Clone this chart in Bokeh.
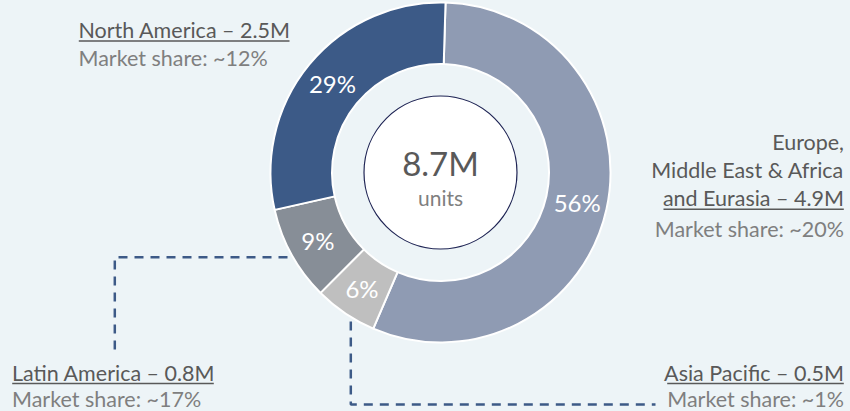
import math
from bokeh.plotting import figure
from bokeh.models import Range1d, ColumnDataSource
from bokeh.core.properties import value
from bokeh.embed import file_html
from bokeh.resources import INLINE

# ---------------- data ----------------
regions = ["Europe, Middle East & Africa and Eurasia", "Asia Pacific", "Latin America", "North America"]
units_m = [4.9, 0.5, 0.8, 2.5]            # million units
share_of_total = [56, 6, 9, 29]           # % of total units (donut slices)
market_share = [20, 1, 17, 12]            # approx market share %
total_units = "8.7M"
total_caption = "units"
colors = ["#8F9BB3", "#BFBFBF", "#878E97", "#3C5A87"]

# ---------------- styling / layout ----------------
BG = "#EDF4F7"
W, H = 850, 411
FONT = value("Lato")
TITLE_C = "#595959"
SUB_C = "#7F7F7F"
LINE_C = "#3D5A87"

def Y(ys):
    return H - ys

def TY(ys, size):
    # baseline position (screen px) -> data y, compensating renderer baseline offset
    return H - (ys - 0.37 * size)

p = figure(width=W, height=H, x_range=Range1d(0, W), y_range=Range1d(0, H),
           output_backend="svg", toolbar_location=None,
           x_axis_type=None, y_axis_type=None, min_border=0,
           background_fill_color=BG, border_fill_color=BG, outline_line_color=None)
p.grid.grid_line_color = None

cx, cy = 440, Y(172)
r_out, r_in = 170, 108.5
offset = 1.7  # degrees clockwise from 12 o'clock

# slices
starts, ends, lx, ly, labels = [], [], [], [], []
cum = 0
for v in share_of_total:
    th1 = offset + cum / 100 * 360
    th2 = th1 + v / 100 * 360
    cum += v
    starts.append(math.radians(90 - th2))
    ends.append(math.radians(90 - th1))
    mid = math.radians(90 - (th1 + th2) / 2)
    rm = 140
    lx.append(cx + rm * math.cos(mid))
    ly.append(cy + rm * math.sin(mid))
    labels.append(f"{v}%")

src = ColumnDataSource(dict(start=starts, end=ends, color=colors, lx=lx, ly=ly, label=labels))
p.annular_wedge(x=cx, y=cy, inner_radius=r_in, outer_radius=r_out,
                start_angle="start", end_angle="end", direction="anticlock",
                fill_color="color", line_color="white", line_width=2, source=src)
p.text(x="lx", y="ly", text="label", source=src, text_color="white",
       text_font=FONT, text_font_size="24px", text_align="center", text_baseline="middle")

# center circle
p.circle(x=cx, y=cy, radius=76.5, fill_color="white", line_color="#1F2454", line_width=1.2)
p.text(x=[cx], y=[TY(175, 33)], text=[total_units], text_color=TITLE_C, text_font=FONT,
       text_font_size="33px", text_align="center", text_baseline="alphabetic")
p.text(x=[cx], y=[TY(205, 21)], text=[total_caption], text_color=SUB_C, text_font=FONT,
       text_font_size="21px", text_align="center", text_baseline="alphabetic")

def fmt(u):
    return f"{u}M"

FS = 21.5
TS = f"{FS}px"
# North America (left, top)
p.text(x=[78], y=[TY(37.3, FS)], text=[f"{regions[3]} – {fmt(units_m[3])}"], text_color=TITLE_C,
       text_font=FONT, text_font_size=TS, text_align="left", text_baseline="alphabetic")
p.text(x=[78], y=[TY(65.7, FS)], text=[f"Market share: ~{market_share[3]}%"], text_color=SUB_C,
       text_font=FONT, text_font_size=TS, text_align="left", text_baseline="alphabetic")

# Europe (right, middle)
eu_lines = ["Europe,", "Middle East & Africa", f"and Eurasia – {fmt(units_m[0])}"]
p.text(x=[843.5] * 3, y=[TY(149, FS), TY(177.3, FS), TY(205.8, FS)], text=eu_lines, text_color=TITLE_C,
       text_font=FONT, text_font_size=TS, text_align="right", text_baseline="alphabetic")
p.text(x=[843.5], y=[TY(236.7, FS)], text=[f"Market share: ~{market_share[0]}%"], text_color=SUB_C,
       text_font=FONT, text_font_size=TS, text_align="right", text_baseline="alphabetic")

# Asia Pacific (right, bottom)
p.text(x=[843.5], y=[TY(380, FS)], text=[f"{regions[1]} – {fmt(units_m[1])}"], text_color=TITLE_C,
       text_font=FONT, text_font_size=TS, text_align="right", text_baseline="alphabetic")
p.text(x=[843.5], y=[TY(406.5, FS)], text=[f"Market share: ~{market_share[1]}%"], text_color=SUB_C,
       text_font=FONT, text_font_size=TS, text_align="right", text_baseline="alphabetic")

# Latin America (left, bottom)
p.text(x=[11.5], y=[TY(380, FS)], text=[f"{regions[2]} – {fmt(units_m[2])}"], text_color=TITLE_C,
       text_font=FONT, text_font_size=TS, text_align="left", text_baseline="alphabetic")
p.text(x=[11.5], y=[TY(406.5, FS)], text=[f"Market share: ~{market_share[2]}%"], text_color=SUB_C,
       text_font=FONT, text_font_size=TS, text_align="left", text_baseline="alphabetic")

# underlines
p.segment(x0=[78.3, 663, 666.7, 11.7], y0=[Y(40.5), Y(208.8), Y(383), Y(383)],
          x1=[289, 843.3, 843.3, 213.3], y1=[Y(40.5), Y(208.8), Y(383), Y(383)],
          line_color=TITLE_C, line_width=1.4)

# dashed leader lines
p.line(x=[287, 114.3, 114.3], y=[Y(256.7), Y(256.7), Y(351.7)],
       line_color=LINE_C, line_width=2.5, line_dash="9 7")
p.line(x=[350.3, 350.3, 655], y=[Y(321), Y(404), Y(404)],
       line_color=LINE_C, line_width=2.5, line_dash="9 7")

TEMPLATE = """{% block postamble %}<style>html, body {margin:0 !important; padding:0 !important; background:#EDF4F7; overflow:hidden;}</style>{% endblock %}"""

open("out.html", "w").write(file_html(p, INLINE, template=TEMPLATE))
